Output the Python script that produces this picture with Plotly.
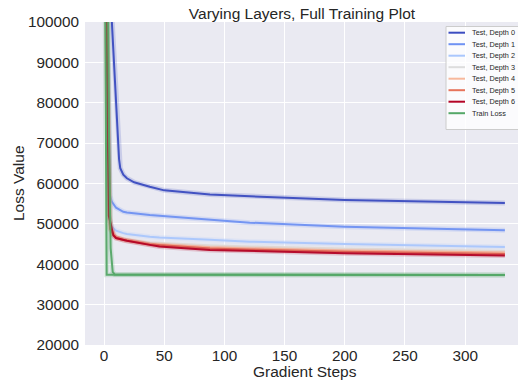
import plotly.graph_objects as go

# ---- data ----
names = ["Test, Depth 0", "Test, Depth 1", "Test, Depth 2", "Test, Depth 3",
         "Test, Depth 4", "Test, Depth 5", "Test, Depth 6"]
colors = ["#3B4CC0", "#6F92F3", "#AAC7FD", "#DDDDDD", "#F7B89C", "#E7745B", "#B40426"]

steps_d0 = [0, 6.4, 11, 12.5, 13.5, 16, 19, 25, 38, 50, 88, 130, 200, 333]
loss_d0 = [137000, 100000, 73300, 66000, 63800, 62200, 61300, 60300, 59200, 58300, 57300, 56700, 55900, 55200]

steps_d1 = [0, 3, 5, 6.4, 10, 16, 19, 38, 46, 88, 121, 200, 333]
loss_d1 = [150000, 100000, 57000, 55500, 54000, 53000, 52800, 52200, 52000, 51000, 50300, 49300, 48400]

steps_d2 = [0, 2.5, 5, 6.4, 10, 16, 19, 38, 46, 88, 121, 200, 333]
loss_d2 = [150000, 100000, 50500, 49300, 48300, 47700, 47500, 46800, 46600, 46050, 45600, 45000, 44300]

steps_d3 = [0, 2.3, 5, 7, 10, 16, 38, 88, 121, 200, 333]
loss_d3 = [150000, 100000, 49200, 47900, 47000, 46300, 45400, 44700, 44400, 43900, 43300]

steps_d4 = [0, 2.2, 5, 7.7, 10, 16, 38, 88, 121, 200, 333]
loss_d4 = [150000, 100000, 49000, 47700, 46800, 46200, 45100, 44200, 43900, 43400, 42900]

steps_d5 = [0, 2.2, 5, 7.7, 10, 16, 38, 88, 121, 200, 333]
loss_d5 = [150000, 100000, 48800, 47300, 46500, 46000, 44900, 43900, 43600, 43100, 42550]

steps_d6 = [0, 2.2, 4, 6.4, 7.7, 10, 16, 19, 38, 46, 88, 121, 200, 333]
loss_d6 = [150000, 100000, 52000, 48900, 47200, 46500, 46000, 45800, 44800, 44400, 43550, 43300, 42700, 42150]

steps_train_a = [0, 1, 1.8, 2.2, 333]
loss_train_a = [160000, 100000, 40000, 37400, 37350]

steps_train_b = [0, 3.5, 4.2, 5.5, 7.2, 9, 333]
loss_train_b = [160000, 100000, 70000, 44000, 38100, 37450, 37350]

train_name = "Train Loss"
train_color = "#55A868"

x_ticks = [0, 50, 100, 150, 200, 250, 300]
y_ticks = [20000, 30000, 40000, 50000, 60000, 70000, 80000, 90000, 100000]

series_x = [steps_d0, steps_d1, steps_d2, steps_d3, steps_d4, steps_d5, steps_d6]
series_y = [loss_d0, loss_d1, loss_d2, loss_d3, loss_d4, loss_d5, loss_d6]

# ---- figure ----
W, H = 518, 381
ML, MR, MT, MB = 85, 0, 22, 36
TEXT = "#262626"
FONT = "Liberation Sans, Arial, sans-serif"
TICK = 15.3
LABEL = 15.5

fig = go.Figure()

def add_series(xs, ys, color, name):
    # faint halo under the line
    fig.add_trace(go.Scatter(x=xs, y=ys, mode="lines", line=dict(color=color, width=5),
                             opacity=0.18, showlegend=False, hoverinfo="skip"))
    fig.add_trace(go.Scatter(x=xs, y=ys, mode="lines", name=name,
                             line=dict(color=color, width=2), opacity=0.95, showlegend=False))

for xs, ys, c, n in zip(series_x, series_y, colors, names):
    add_series(xs, ys, c, n)
add_series(steps_train_a, loss_train_a, train_color, train_name)
add_series(steps_train_b, loss_train_b, train_color, train_name)

fig.update_layout(
    width=W, height=H,
    margin=dict(l=ML, r=MR, t=MT, b=MB, pad=0, autoexpand=False),
    paper_bgcolor="white",
    plot_bgcolor="#EAEAF2",
    font=dict(family=FONT, color=TEXT, size=TICK),
    showlegend=False,
    title=dict(text="Varying Layers, Full Training Plot", x=302 / W, xref="container",
               xanchor="center", y=1 - 14 / H, yref="container", yanchor="middle",
               font=dict(size=15.5, color=TEXT)),
)
fig.update_xaxes(range=[-15.8, 343.9], tickvals=x_ticks, ticktext=[str(v) for v in x_ticks],
                 showgrid=True, gridcolor="white", gridwidth=1, zeroline=False,
                 showline=False, ticks="", tickfont=dict(size=TICK), ticklabelstandoff=0,
                 automargin=False)
fig.update_yaxes(range=[20000, 100000], tickvals=y_ticks, ticktext=[str(v) for v in y_ticks],
                 showgrid=True, gridcolor="white", gridwidth=1, zeroline=False,
                 showline=False, ticks="", tickfont=dict(size=TICK), ticklabelstandoff=5,
                 automargin=False)

PW = W - ML - MR
PH = H - MT - MB
def px(xp):
    return (xp - ML) / PW
def py(yp):
    return (H - MB - yp) / PH

# axis titles
fig.add_annotation(xref="paper", yref="paper", x=px(305), y=py(371), text="Gradient Steps",
                   showarrow=False, xanchor="center", yanchor="middle",
                   font=dict(size=LABEL, color=TEXT))
fig.add_annotation(xref="paper", yref="paper", x=px(18.5), y=py(183.5), text="Loss Value",
                   showarrow=False, textangle=-90, xanchor="center", yanchor="middle",
                   font=dict(size=LABEL, color=TEXT))

# ---- compact legend (matplotlib-like) ----
fig.add_shape(type="rect", xref="paper", yref="paper",
              x0=px(446), x1=px(530), y0=py(129.5), y1=py(26.5),
              fillcolor="rgba(255,255,255,0.8)", line=dict(color="#CCCCCC", width=1))
leg_names = names + [train_name]
leg_colors = colors + [train_color]
for i, (n, c) in enumerate(zip(leg_names, leg_colors)):
    yc = 32.7 + i * 11.5
    fig.add_shape(type="line", xref="paper", yref="paper",
                  x0=px(448.5), x1=px(465), y0=py(yc), y1=py(yc),
                  line=dict(color=c, width=2))
    fig.add_annotation(xref="paper", yref="paper", x=px(469.5), y=py(yc),
                       text=n, showarrow=False, xanchor="left", yanchor="middle",
                       font=dict(size=7.3, color=TEXT))

fig.write_html("out.html", config={"displayModeBar": False},
               post_script="document.body.style.margin='0';")
